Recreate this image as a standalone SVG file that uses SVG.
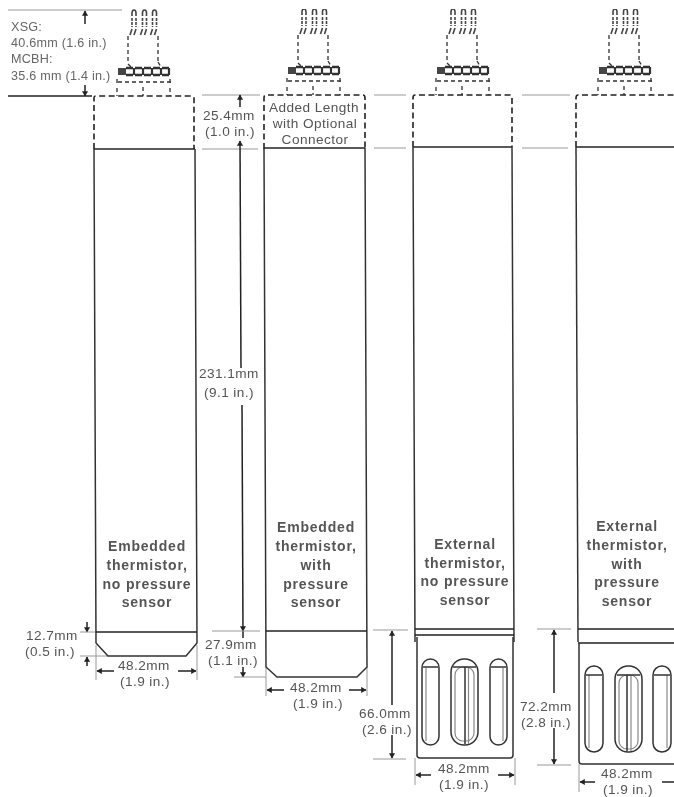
<svg xmlns="http://www.w3.org/2000/svg" width="674" height="797" viewBox="0 0 674 797">
<style>
text{font-family:"Liberation Sans",Arial,sans-serif;font-size:13.6px;letter-spacing:.45px;fill:#555;text-anchor:middle}
.s{font-size:12.6px;letter-spacing:.25px;text-anchor:start;fill:#666}
.b{font-size:14px;font-weight:bold;fill:#555;letter-spacing:.8px}
.body{fill:none;stroke:#333;stroke-width:1.5}
.heavy{fill:none;stroke:#222;stroke-width:1.7}
.dash{fill:none;stroke:#222;stroke-width:1.6;stroke-dasharray:6 3.500}
.fine{fill:none;stroke:#333;stroke-width:1.3;stroke-dasharray:4 3}
.pin{fill:none;stroke:#444;stroke-width:1.600}
.dim{fill:none;stroke:#222;stroke-width:1.5}
.ext{fill:none;stroke:#999;stroke-width:1}
.slot{fill:none;stroke:#333;stroke-width:1.500}
.thin{fill:none;stroke:#888;stroke-width:1.200}
#art{filter:url(#soft)}
</style>
<defs>
<filter id="soft" x="0" y="0" width="1" height="1"><feGaussianBlur stdDeviation="0.45"/></filter>
<marker id="a" viewBox="0 0 6 8" refX="5.500" refY="4" markerWidth="6" markerHeight="7" markerUnits="userSpaceOnUse" orient="auto-start-reverse"><path d="M0 .5L6 4L0 7.500Z" fill="#222"/></marker>
<g id="conn">
<path class="pin" d="M132 16V13Q132 10 134 10Q136 10 136 13V16M142.500 16V13Q142.500 10 144.500 10Q146.500 10 146.500 13V16M152.500 16V13Q152.500 10 154.500 10Q156.500 10 156.500 13V16"/>
<path class="pin" stroke-dasharray="3 1" d="M132 18V27M136 18V27M142.500 18V27M146.500 18V27M152.500 18V27M156.500 18V27"/>
<path class="pin" stroke-width="2" d="M130 35L132 29M134 35L136 29M140.500 35L142.500 29M144.500 35L146.500 29M150.500 35L152.500 29M154.500 35L156.500 29"/>
<path class="fine" d="M128 36V64M158 36V64M128 64L131 67M158 62L161 67"/>
<path d="M118 68h8v7h-8z" fill="#444"/>
<path stroke="#333" stroke-width="2.600" fill="none" stroke-dasharray="7 2" d="M126 68H169M126 75H169"/>
<path stroke="#333" stroke-width="2.200" fill="none" d="M134 68V75M143 68V75M152 68V75M161 68V75M169 68V75"/>
<path class="fine" d="M118 82H171M117 79V84M170 79V84M117 88V96M170 88V96M143 87V96"/>
</g>
</defs>
<g id="art">
<g id="connectors">
<path class="ext" d="M8 10H122"/>
<path class="dim" d="M8 96H92"/>
<path class="dim" d="M85 11V24" marker-start="url(#a)"/>
<path class="dim" d="M85 85V96" marker-end="url(#a)"/>
<path class="ext" d="M202 95H260M202 149H258M374 95H406M374 148H406M522 95H570M522 148H568"/>
<path class="dim" d="M240 95V107" marker-start="url(#a)"/>
<path class="dim" d="M240 141L241 368" marker-start="url(#a)"/>
<path class="dim" d="M242 405L243 631" marker-end="url(#a)"/>
<path class="dim" d="M243 631V638"/>
<path class="dim" d="M243 667V677" marker-end="url(#a)"/>
<path class="ext" d="M212 631H260M234 677H266"/>
<path class="dim" d="M87 622V632" marker-end="url(#a)"/>
<path class="dim" d="M87 666V657" marker-end="url(#a)"/>
<path class="ext" d="M80 632H96M80 656H108M96 645V680M197 645V680"/>
<path class="dim" d="M97 671H114" marker-start="url(#a)"/>
<path class="dim" d="M178 671H196" marker-end="url(#a)"/>
<path class="ext" d="M266 667V696M367 667V696"/>
<path class="dim" d="M267 690H284" marker-start="url(#a)"/>
<path class="dim" d="M349 690H366" marker-end="url(#a)"/>
<path class="ext" d="M373 630H408M373 759H406M537 629H571M537 765H571"/>
<path class="dim" d="M392 631V705" marker-start="url(#a)"/>
<path class="dim" d="M392 735V758" marker-end="url(#a)"/>
<path class="dim" d="M554 630V693" marker-start="url(#a)"/>
<path class="dim" d="M554 728V764" marker-end="url(#a)"/>
<path class="ext" d="M415 758V785M515 758V785M579 764V792"/>
<path class="dim" d="M416 775H431" marker-start="url(#a)"/>
<path class="dim" d="M498 775H514" marker-end="url(#a)"/>
<path class="dim" d="M580 782H595" marker-start="url(#a)"/>
<path class="dim" d="M662 782H674"/>
</g>
<g id="sensor-1">
<use href="#conn"/>
<path class="dash" d="M94 149V98Q94 96 96 96H192Q194 96 194 98V149"/>
<path class="heavy" d="M94 149H195"/>
<path class="body" d="M94 149L96 643L108 656H186L197 643L195 149"/>
<path class="heavy" d="M96 632H197"/>
<text class="b" x="147" y="551">Embedded</text>
<text class="b" x="147" y="570">thermistor,</text>
<text class="b" x="147" y="589">no pressure</text>
<text class="b" x="147" y="607">sensor</text>
</g>
<g id="sensor-2">
<use href="#conn" x="170" y="-1"/>
<path class="dash" d="M264 149V98Q264 95 266 95H363Q365 95 365 98V149"/>
<path class="heavy" d="M264 148H365"/>
<path class="body" d="M264 148L266 667L277 677H357L367 667L365 148"/>
<path class="heavy" d="M266 631H367"/>
<text class="b" x="316" y="532">Embedded</text>
<text class="b" x="316" y="551">thermistor,</text>
<text class="b" x="316" y="570">with</text>
<text class="b" x="316" y="589">pressure</text>
<text class="b" x="316" y="607">sensor</text>
</g>
<g id="sensor-3">
<use href="#conn" x="319" y="-1"/>
<path class="dash" d="M413 147V98Q413 95 415 95H510Q512 95 512 98V147"/>
<path class="heavy" d="M413 147H512"/>
<path class="body" d="M413 147L415 642M512 147L514 642"/>
<path class="heavy" d="M415 629H514M415 635H514"/>
<path class="body" d="M417 637V755Q417 758 420 758H510Q513 758 513 755V637"/>
<rect class="slot" x="422" y="659" width="17" height="86" rx="8.500"/>
<path class="thin" d="M426 668V741"/><path class="slot" d="M423 667H438"/>
<rect class="slot" x="451" y="659" width="27" height="86" rx="13"/>
<rect class="thin" x="455" y="667" width="19" height="74" rx="8"/>
<path class="slot" d="M465 667V744"/><path class="thin" d="M468.500 667V744"/><path class="slot" d="M453 667H476"/>
<rect class="slot" x="490" y="659" width="17" height="86" rx="8.500"/>
<path class="thin" d="M503 668V741"/><path class="slot" d="M491 667H506"/>
<text class="b" x="465" y="549">External</text>
<text class="b" x="465" y="568">thermistor,</text>
<text class="b" x="465" y="586">no pressure</text>
<text class="b" x="465" y="605">sensor</text>
</g>
<g id="sensor-4">
<use href="#conn" x="481" y="-1"/>
<path class="dash" d="M576 147V98Q576 95 578 95H674"/>
<path class="heavy" d="M576 147H674"/>
<path class="body" d="M576 147L578 642"/>
<path class="heavy" d="M578 629H674M578 643H674"/>
<path class="body" d="M579 643V761Q579 764 582 764H674"/>
<rect class="slot" x="585" y="666" width="18" height="86" rx="9"/>
<path class="thin" d="M589 675V748"/><path class="slot" d="M586 675H602"/>
<rect class="slot" x="615" y="666" width="27" height="86" rx="13"/>
<rect class="thin" x="619" y="675" width="19" height="74" rx="8"/>
<path class="slot" d="M627 675V751"/><path class="thin" d="M631 675V751"/><path class="slot" d="M617 675H640"/>
<rect class="slot" x="653" y="666" width="18" height="86" rx="9"/>
<path class="thin" d="M667 675V748"/><path class="slot" d="M654 675H670"/>
<text class="b" x="627" y="531">External</text>
<text class="b" x="627" y="550">thermistor,</text>
<text class="b" x="627" y="569">with</text>
<text class="b" x="627" y="587">pressure</text>
<text class="b" x="627" y="606">sensor</text>
</g>
<g id="labels">
<text class="s" x="11" y="31">XSG:</text>
<text class="s" x="11" y="47">40.6mm (1.6 in.)</text>
<text class="s" x="11" y="63">MCBH:</text>
<text class="s" x="11" y="80">35.6 mm (1.4 in.)</text>
<text x="229" y="120">25.4mm</text>
<text x="230" y="136">(1.0 in.)</text>
<text x="314" y="112">Added Length</text>
<text x="315" y="128">with Optional</text>
<text x="315" y="144">Connector</text>
<text x="229" y="378">231.1mm</text>
<text x="229" y="397">(9.1 in.)</text>
<text x="52" y="640">12.7mm</text>
<text x="50" y="656">(0.5 in.)</text>
<text x="231" y="649">27.9mm</text>
<text x="233" y="665">(1.1 in.)</text>
<text x="144" y="670">48.2mm</text>
<text x="145" y="686">(1.9 in.)</text>
<text x="316" y="692">48.2mm</text>
<text x="318" y="708">(1.9 in.)</text>
<text x="385" y="718">66.0mm</text>
<text x="387" y="734">(2.6 in.)</text>
<text x="546" y="711">72.2mm</text>
<text x="546" y="727">(2.8 in.)</text>
<text x="464" y="773">48.2mm</text>
<text x="464" y="789">(1.9 in.)</text>
<text x="627" y="778">48.2mm</text>
<text x="628" y="794">(1.9 in.)</text>
</g>
</g>
</svg>
